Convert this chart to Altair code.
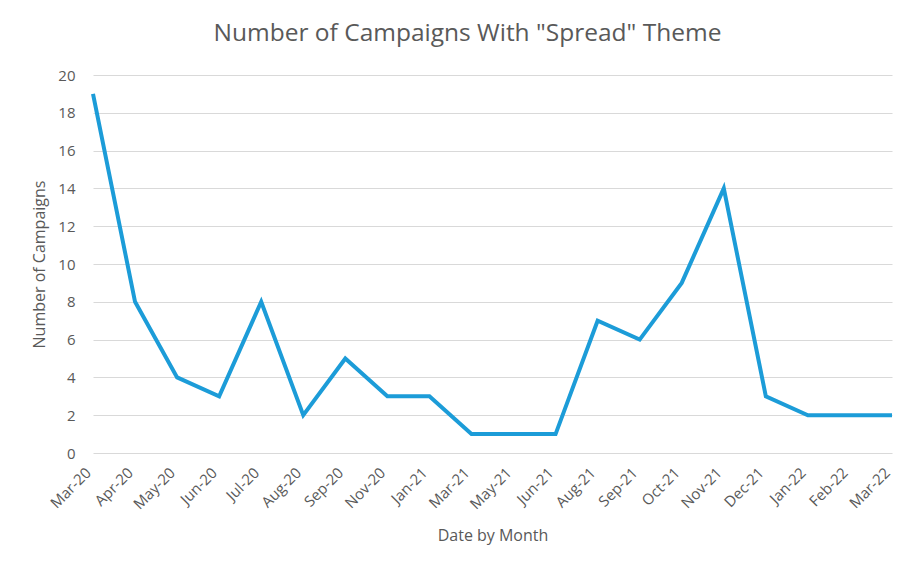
import altair as alt
import pandas as pd

months = ["Mar-20", "Apr-20", "May-20", "Jun-20", "Jul-20", "Aug-20", "Sep-20",
          "Nov-20", "Jan-21", "Mar-21", "May-21", "Jun-21", "Aug-21", "Sep-21",
          "Oct-21", "Nov-21", "Dec-21", "Jan-22", "Feb-22", "Mar-22"]
counts = [19, 8, 4, 3, 8, 2, 5, 3, 3, 1, 1, 1, 7, 6, 9, 14, 3, 2, 2, 2]
y_ticks = list(range(0, 21, 2))

df = pd.DataFrame({"month": months, "count": counts})

grey = "#595959"
font = "Open Sans"

chart = alt.Chart(df).mark_line(color="#1c9cd8", strokeWidth=4).encode(
    x=alt.X("month:N", sort=months, title="Date by Month",
            scale=alt.Scale(type="point", padding=0),
            axis=alt.Axis(labelAngle=-45, labelFontSize=15, labelColor=grey,
                          labelFont=font, titleFont=font, titleFontSize=16,
                          titleColor=grey, titleFontWeight="normal",
                          ticks=False, domain=False, grid=False,
                          labelOffset=-10, labelBound=False,
                          labelPadding=12, titlePadding=16)),
    y=alt.Y("count:Q", title="Number of Campaigns",
            scale=alt.Scale(domain=[0, 20], nice=False),
            axis=alt.Axis(values=y_ticks, labelFontSize=15, labelColor=grey,
                          labelFont=font, titleFont=font, titleFontSize=16,
                          titleColor=grey, titleFontWeight="normal",
                          ticks=False, domain=False, gridColor="#d9d9d9",
                          labelPadding=18, titlePadding=10)),
).properties(
    width=799, height=378,
    title=alt.TitleParams('Number of Campaigns With "Spread" Theme',
                          font=font, fontSize=24.5, fontWeight="normal",
                          color=grey, dx=-25, offset=22),
    autosize=alt.AutoSizeParams(type="none"),
    padding={"left": 85, "top": 67, "right": 4, "bottom": 100},
).configure_view(stroke=None)

chart.save("out.html", embed_options={"renderer": "svg", "actions": False})
